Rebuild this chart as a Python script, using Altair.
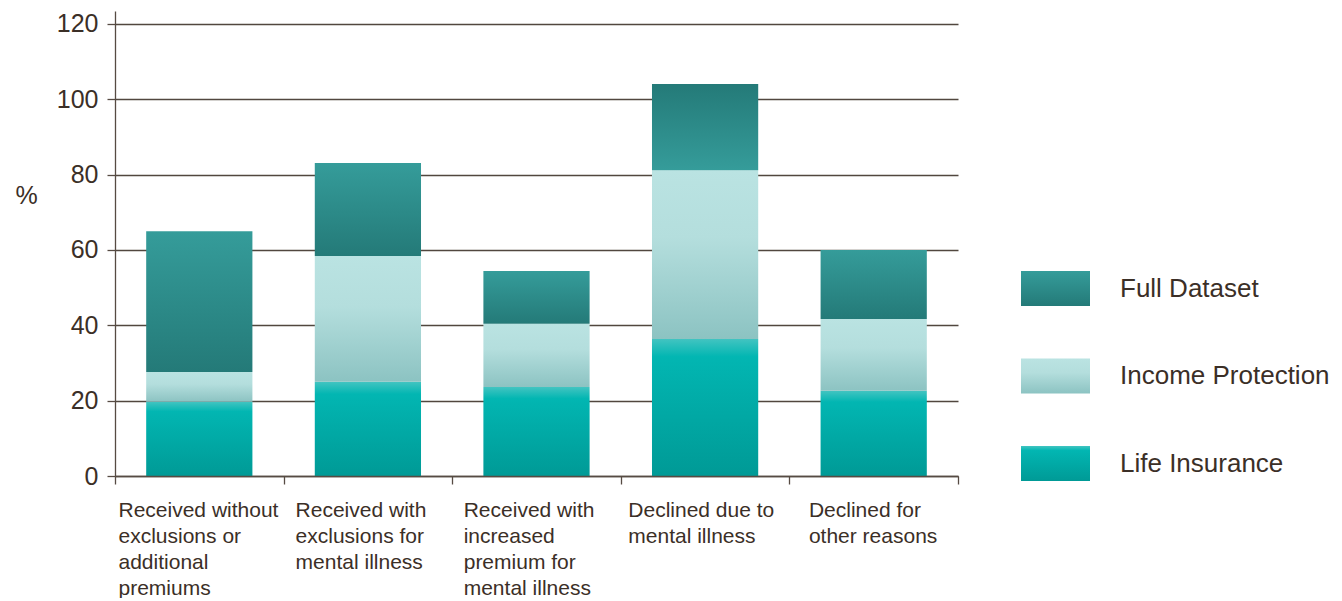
import json
import altair as alt
import pandas as pd

# ---------------- data ----------------
categories = [
    "Received without exclusions or additional premiums",
    "Received with exclusions for mental illness",
    "Received with increased premium for mental illness",
    "Declined due to mental illness",
    "Declined for other reasons",
]
category_label_lines = [
    ["Received without", "exclusions or", "additional", "premiums"],
    ["Received with", "exclusions for", "mental illness"],
    ["Received with", "increased", "premium for", "mental illness"],
    ["Declined due to", "mental illness"],
    ["Declined for", "other reasons"],
]
# stacked segment values (%), bottom to top
life_insurance = [19.7, 25.0, 23.6, 36.4, 22.6]
income_protection = [7.9, 33.4, 16.8, 44.8, 19.1]
full_dataset = [37.4, 24.7, 14.0, 22.9, 18.3]

stack_order = ["Life Insurance", "Income Protection", "Full Dataset"]
legend_order = ["Full Dataset", "Income Protection", "Life Insurance"]
y_ticks = [0, 20, 40, 60, 80, 100, 120]

# ---------------- styles ----------------
FONT = "Liberation Sans"
TXT = "#3b2f27"
AX = "#564b43"
GRID = "#51473f"
# horizontal shift (px) of each category's label block from its left band edge
label_shifts = [3, 11.5, 11, 7, 19]


def grad(stops, flip=False):
    return alt.LinearGradient(
        gradient="linear",
        stops=[alt.GradientStop(color=c, offset=o) for o, c in stops],
        x1=0, x2=0,
        y1=1 if flip else 0,
        y2=0 if flip else 1,
    )


fills = {
    "Full Dataset": [(0, "#359c9a"), (1, "#247a78")],
    "Income Protection": [(0, "#bae3e2"), (0.4, "#b4dedd"), (1, "#8cc3c2")],
    "Life Insurance": [(0, "#42c4c1"), (0.13, "#02b6b2"), (1, "#009a96")],
}
flipped_category = "Declined due to mental illness"  # Full Dataset gradient runs the other way here

# ---------------- table ----------------
values_by_series = {
    "Life Insurance": life_insurance,
    "Income Protection": income_protection,
    "Full Dataset": full_dataset,
}
rows = []
for s_i, s in enumerate(stack_order):
    for c_i, c in enumerate(categories):
        rows.append({"category": c, "idx": c_i, "series": s, "order": s_i,
                     "value": values_by_series[s][c_i]})
df = pd.DataFrame(rows)

label_expr = "(" + json.dumps(category_label_lines) + ")[datum.value] || ''"
label_offset = {
    "condition": [{"test": f"datum.value == {i}", "value": v} for i, v in enumerate(label_shifts)],
    "value": 0,
}

x_enc = alt.X(
    "x0:Q",
    scale=alt.Scale(domain=[0, len(categories)], nice=False, zero=False),
    axis=alt.Axis(
        values=list(range(len(categories) + 1)), labelExpr=label_expr, grid=False,
        domainColor=AX, domainWidth=1.3, tickColor=AX, tickWidth=1.3, tickSize=8,
        labelAlign="left", labelBaseline="top", labelPadding=15, labelOffset=label_offset,
        labelFontSize=21, labelLineHeight=26, labelColor=TXT, labelFont=FONT,
        labelOverlap=False, labelFlush=False, labelBound=False, title=None, zindex=1,
    ),
)
y_enc = alt.Y(
    "y0:Q",
    scale=alt.Scale(domain=[0, 123.45], nice=False, zero=True),
    axis=alt.Axis(
        values=y_ticks, title="%", titleAngle=0, titleX=-100, titleY=184,
        titleAlign="left", titleBaseline="middle", titleFontSize=25,
        titleFontWeight="normal", titleColor=TXT, titleFont=FONT,
        labelFontSize=25, labelColor=TXT, labelFont=FONT, labelPadding=9,
        tickSize=8, tickColor=AX, tickWidth=1.3, domainColor=AX, domainWidth=1.3,
        grid=True, gridColor=GRID, gridWidth=1.3, gridOpacity=1,
    ),
)

base = alt.Chart(df).transform_stack(
    stack="value", groupby=["idx"], as_=["y0", "y1"],
    sort=[alt.SortField(field="order", order="ascending")],
).transform_calculate(x0="datum.idx + 0.185", x1="datum.idx + 0.815")

layers = []
for s in stack_order:
    if s == "Full Dataset":
        layers.append(base.transform_filter(
            f"datum.series == '{s}' && datum.category != '{flipped_category}'"
        ).mark_bar(fill=grad(fills[s])).encode(x=x_enc, x2="x1:Q", y=y_enc, y2="y1:Q"))
        layers.append(base.transform_filter(
            f"datum.series == '{s}' && datum.category == '{flipped_category}'"
        ).mark_bar(fill=grad(fills[s], flip=True)).encode(x=x_enc, x2="x1:Q", y=y_enc, y2="y1:Q"))
    else:
        layers.append(base.transform_filter(f"datum.series == '{s}'").mark_bar(
            fill=grad(fills[s])).encode(x=x_enc, x2="x1:Q", y=y_enc, y2="y1:Q"))

main = alt.layer(*layers).properties(width=843, height=465)

# ---------------- legend ----------------
leg_df = pd.DataFrame({"series": legend_order})
leg_y = alt.Y(
    "series:N", sort=legend_order,
    scale=alt.Scale(domain=legend_order, range=[260, 470], paddingInner=0.6, paddingOuter=0),
    axis=None,
)
leg_layers = []
for s in legend_order:
    leg_layers.append(alt.Chart(leg_df).transform_filter(f"datum.series == '{s}'").mark_rect(
        fill=grad(fills[s])).encode(x=alt.value(0), x2=alt.value(69), y=leg_y))
leg_layers.append(alt.Chart(leg_df).mark_text(
    align="left", baseline="middle", fontSize=26, font=FONT, color=TXT
).encode(x=alt.value(99), y=leg_y, text="series:N"))
legend = alt.layer(*leg_layers).properties(width=220, height=465)

chart = alt.hconcat(main, legend, spacing=62).properties(
    padding={"left": 7, "top": 3, "right": 0, "bottom": 0}
).configure_view(stroke=None)

chart.save("out.html", embed_options={"renderer": "svg", "actions": False})
